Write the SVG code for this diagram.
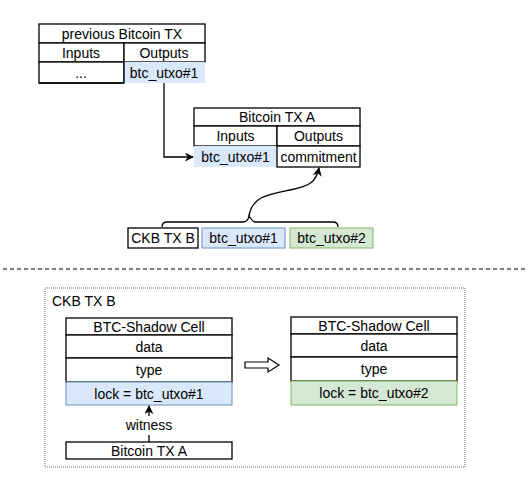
<svg xmlns="http://www.w3.org/2000/svg" width="529" height="484" viewBox="0 0 529 484">
<style>
.c{stroke:#000;stroke-width:1.3;}
.w{fill:#fff;}
.b{fill:#dae8fc;stroke:#6c8ebf;}
.g{fill:#d5e8d4;stroke:#82b366;}
text{font-family:"Liberation Sans",Arial,sans-serif;font-size:14px;fill:#000;text-anchor:middle;}
.ln{fill:none;stroke:#000;stroke-width:1.3;}
</style>
<defs>
<marker id="ah" viewBox="0 0 10 10" refX="9" refY="5" markerWidth="9" markerHeight="9" orient="auto" markerUnits="userSpaceOnUse">
<path d="M0,0 L10,5 L0,10 L3,5 Z" fill="#000"/>
</marker>
</defs>
<rect width="529" height="484" fill="#fff"/>

<g id="prev-tx">
<rect x="39" y="24" width="166" height="19" class="w c"/>
<rect x="39" y="43" width="85" height="19" class="w c"/>
<rect x="124" y="43" width="81" height="19" class="w c"/>
<rect x="39" y="62" width="85" height="21" class="w c"/>
<rect x="124" y="62" width="81" height="21" fill="#dae8fc"/>
<line x1="124" y1="62" x2="124" y2="83" class="c"/>
<line x1="39" y1="83" x2="124" y2="83" class="c"/>
<text x="122" y="38.5">previous Bitcoin TX</text>
<text x="81" y="57.5">Inputs</text>
<text x="164" y="57.5">Outputs</text>
<text x="81" y="77.5">...</text>
<text x="164" y="77.5">btc_utxo#1</text>
</g>

<g id="btc-tx-a">
<rect x="194" y="108" width="166" height="18" class="w c"/>
<rect x="194" y="126" width="83" height="20" class="w c"/>
<rect x="277" y="126" width="83" height="20" class="w c"/>
<rect x="194" y="146" width="83" height="21" fill="#dae8fc"/>
<rect x="277" y="146" width="83" height="21" class="w c"/>
<text x="277" y="122">Bitcoin TX A</text>
<text x="235.5" y="141">Inputs</text>
<text x="318.5" y="141">Outputs</text>
<text x="235.5" y="161.5">btc_utxo#1</text>
<text x="318.5" y="161.5">commitment</text>
</g>

<g id="ckb-tx-b-row">
<rect x="128" y="228" width="70" height="20" class="w c"/>
<rect x="202" y="228" width="83" height="20" class="b"/>
<rect x="290" y="228" width="83" height="20" class="g"/>
<text x="163" y="243">CKB TX B</text>
<text x="243.5" y="243">btc_utxo#1</text>
<text x="331.5" y="243">btc_utxo#2</text>
</g>

<g id="divider">
<line x1="3" y1="269" x2="526" y2="269" stroke="#000" stroke-width="1.2" stroke-dasharray="4,3"/>
</g>

<g id="ckb-tx-b-container">
<rect x="45" y="288" width="420" height="179" fill="none" stroke="#666" stroke-width="1" stroke-dasharray="1,1"/>
<text x="52" y="306" style="text-anchor:start">CKB TX B</text>
</g>

<g id="shadow-cell-1">
<rect x="66" y="318" width="166" height="17" class="w c"/>
<rect x="66" y="335" width="166" height="23" class="w c"/>
<rect x="66" y="358" width="166" height="24" class="w c"/>
<rect x="66" y="382" width="166" height="23" class="b"/>
<text x="149" y="331.5">BTC-Shadow Cell</text>
<text x="149" y="351.5">data</text>
<text x="149" y="375">type</text>
<text x="149" y="398.5">lock = btc_utxo#1</text>
</g>

<g id="shadow-cell-2">
<rect x="291" y="317" width="166" height="17" class="w c"/>
<rect x="291" y="334" width="166" height="23" class="w c"/>
<rect x="291" y="357" width="166" height="24" class="w c"/>
<rect x="291" y="381" width="166" height="24" class="g"/>
<text x="374" y="330.5">BTC-Shadow Cell</text>
<text x="374" y="350.5">data</text>
<text x="374" y="374">type</text>
<text x="374" y="398">lock = btc_utxo#2</text>
</g>

<g id="bitcoin-tx-a-ref">
<rect x="66" y="442" width="166" height="17" class="w c"/>
<text x="149" y="455.5">Bitcoin TX A</text>
</g>

<g id="connectors">
<path d="M164,83 V157 H193" class="ln" marker-end="url(#ah)"/>
<path d="M162,227 Q162,222 167,222 H243 Q248,222 249,216 Q253,222 255,222 H333 Q338,222 338,227" class="ln"/>
<path d="M249,216 C252,196 270,194 290,190 C310,186 316,182 319,168" class="ln" marker-end="url(#ah)"/>
<path d="M149,442 V435" class="ln"/>
<path d="M149,416 V406" class="ln" marker-end="url(#ah)"/>
<text x="149" y="430">witness</text>
<path d="M245,362 H268 V358 L279,365 L268,372 V368 H245 Z" fill="#fff" stroke="#000" stroke-width="1.2"/>
</g>
</svg>
